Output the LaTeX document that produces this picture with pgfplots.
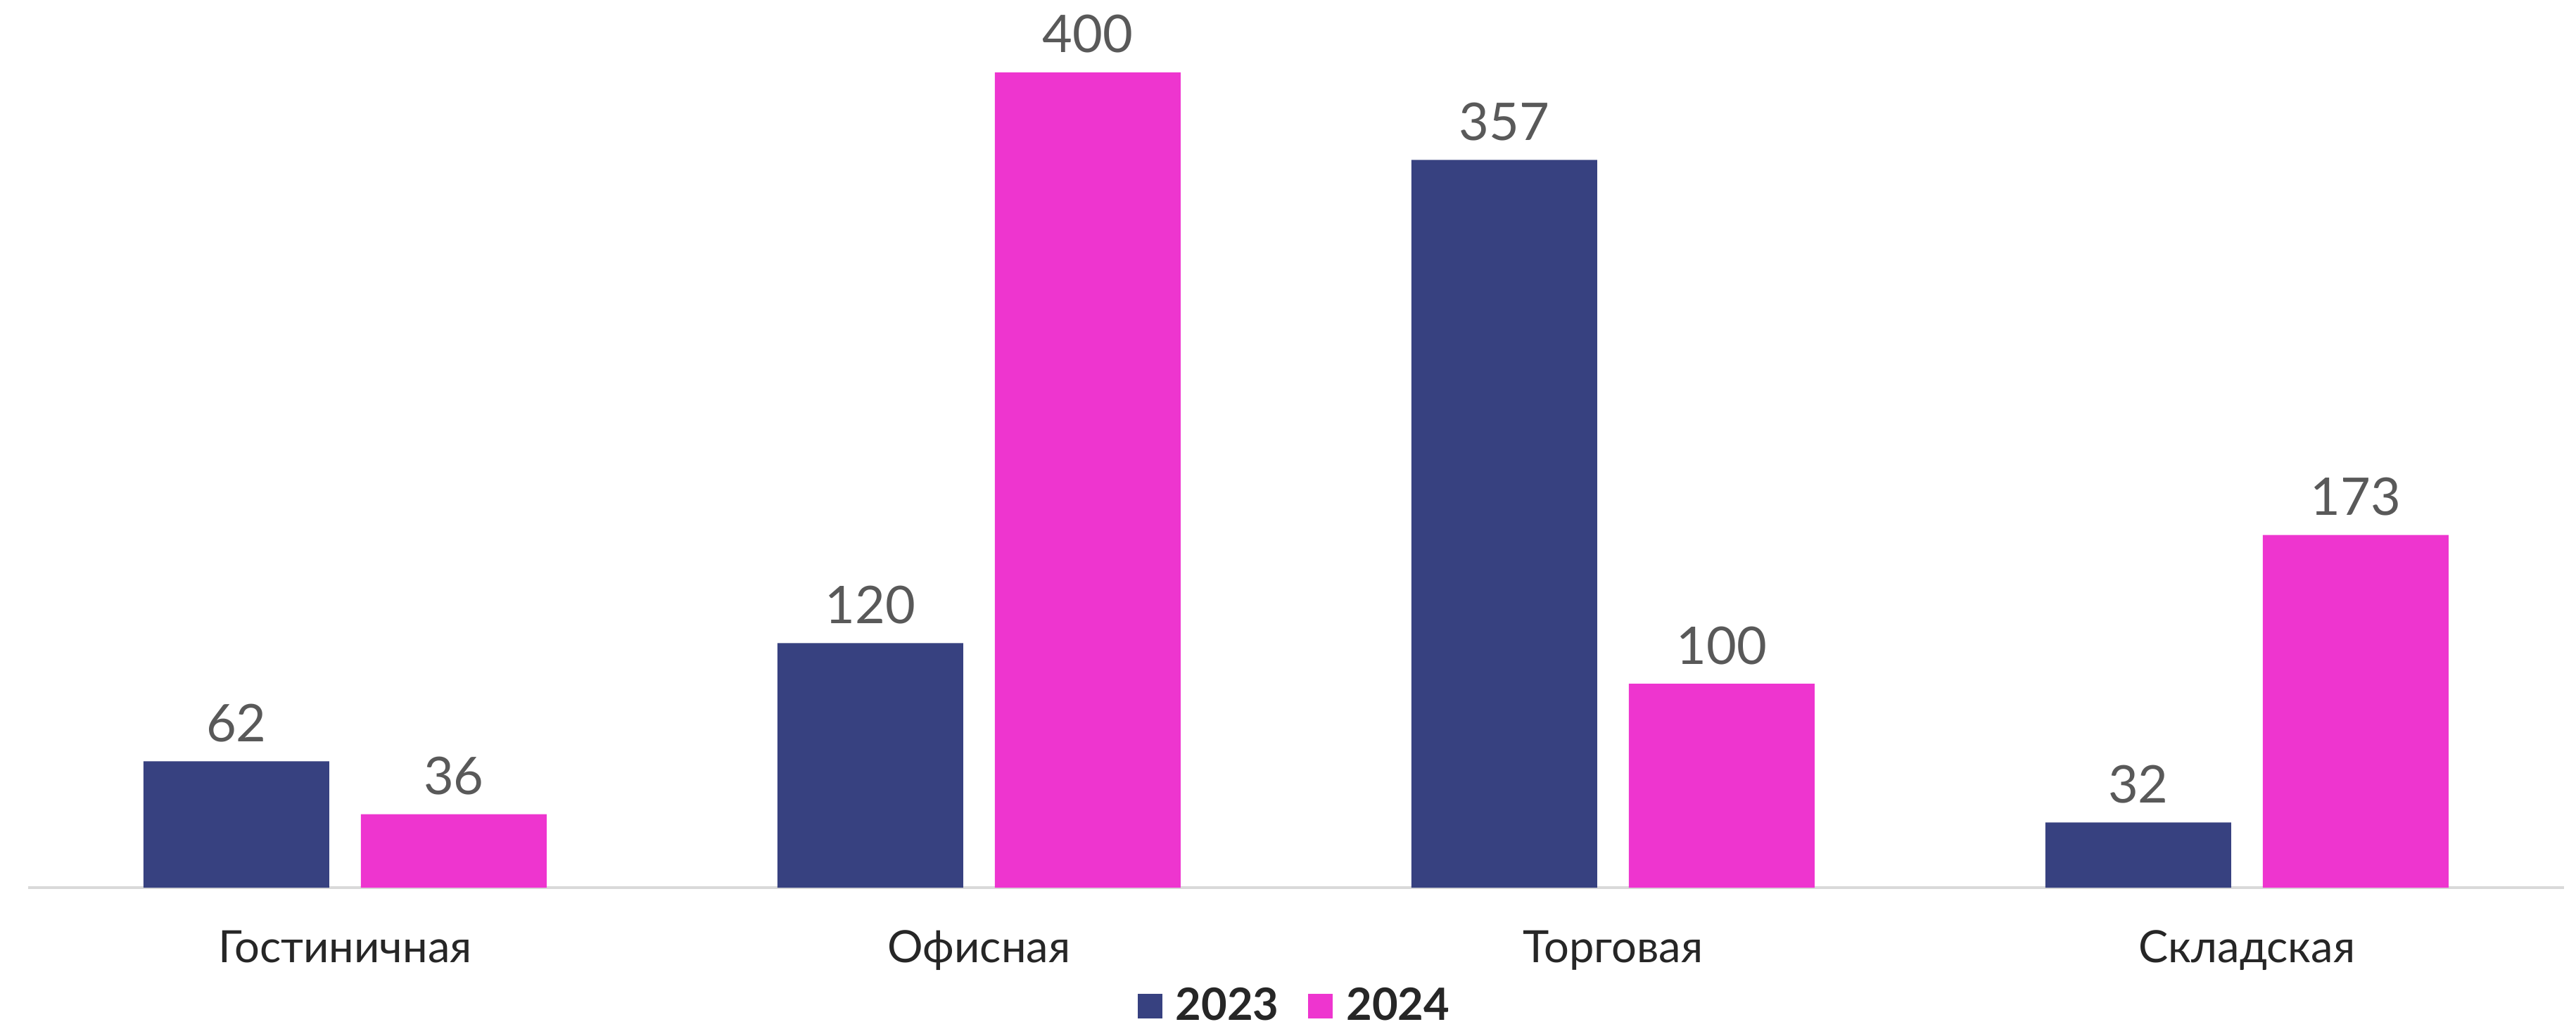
\documentclass[border=0pt]{standalone}
\usepackage{pgfplots}
\pgfplotsset{compat=1.18}
\usepackage{fontspec}
\setmainfont{Lato}
\definecolor{cnavy}{RGB}{55,65,128}
\definecolor{cmag}{RGB}{238,53,207}
\definecolor{lblgray}{RGB}{89,89,89}
\definecolor{txtdark}{RGB}{38,38,38}
\definecolor{axgray}{RGB}{217,217,217}
\begin{document}
\begin{tikzpicture}
\useasboundingbox (0,0) rectangle (36.61cm,14.62cm);
\begin{axis}[
  at={(0.40cm,2.00cm)}, anchor=south west,
  scale only axis,
  width=36.04cm, height=12.62cm,
  xmin=-0.5, xmax=3.5,
  ymin=0, ymax=435.5,
  axis y line=none,
  axis x line*=bottom,
  x axis line style={draw=axgray, line width=1.2pt, -},
  xtick={0,1,2,3},
  xticklabels={Гостиничная,Офисная,Торговая,Складская},
  major tick length=0pt,
  xticklabel style={anchor=base, yshift=-1.06cm, font=\fontsize{18}{22}\selectfont, text=txtdark},
  ybar, bar width=2.64cm,
  /pgf/number format/assume math mode=true,
  nodes near coords,
  every node near coord/.append style={anchor=base, yshift=0.28cm, font=\fontsize{21}{25}\selectfont, text=lblgray},
  legend style={at={(0.5,0)}, anchor=center, yshift=-1.68cm, draw=none, fill=none,
    legend columns=2, font=\fontsize{18}{22}\selectfont\bfseries, text=txtdark,
    /tikz/every even column/.append style={column sep=0.35cm}},
  legend image code/.code={\fill[#1] (0cm,-0.175cm) rectangle (0.35cm,0.175cm); \path (0.47cm,0);},
]
\addplot[fill=cnavy, draw=none, bar shift=-1.545cm] coordinates {(0,62) (1,120) (2,357) (3,32)};
\addlegendentry{2023}
\addplot[fill=cmag, draw=none, bar shift=1.545cm] coordinates {(0,36) (1,400) (2,100) (3,173)};
\addlegendentry{2024}
\end{axis}
\end{tikzpicture}
\end{document}
